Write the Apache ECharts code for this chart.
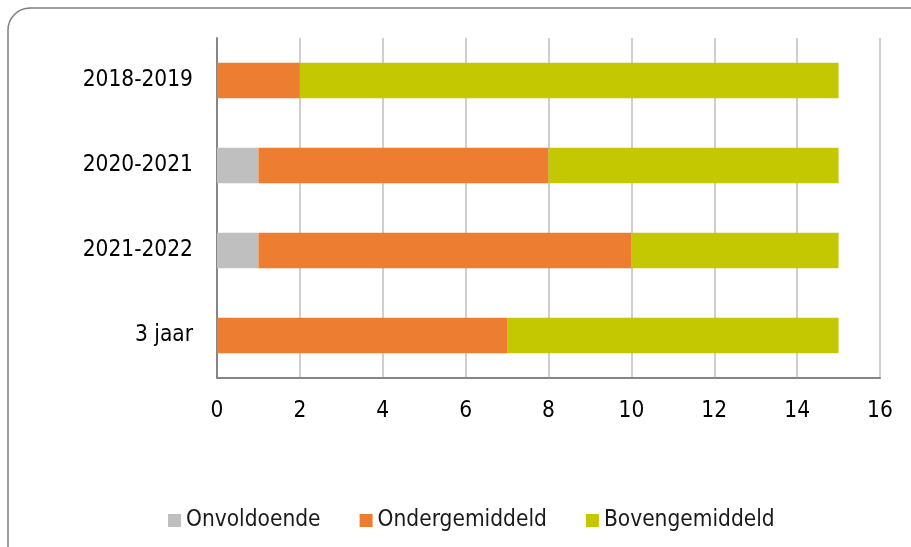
<!DOCTYPE html>
<html>
<head>
<meta charset="utf-8">
<script src="https://cdn.jsdelivr.net/npm/echarts@6/dist/echarts.min.js"></script>
<style>
  html, body { margin: 0; padding: 0; background: #ffffff; }
  #chart { width: 911px; height: 547px; }
</style>
</head>
<body>
<div id="chart"></div>
<script>
// categories, top to bottom
const categories = ["2018-2019", "2020-2021", "2021-2022", "3 jaar"];
// series values
const onvoldoende = [0, 1, 1, 0];
const ondergemiddeld = [2, 7, 9, 7];
const bovengemiddeld = [13, 7, 5, 8];

const font = "'DejaVu Sans Condensed', 'DejaVu Sans', sans-serif";

let myChart = echarts.init(document.getElementById("chart"));
myChart.setOption({
  animation: false,
  textStyle: { fontFamily: font },
  graphic: [
    {
      type: "rect",
      shape: { x: 8, y: 8, width: 930, height: 570, r: 22 },
      style: { fill: "none", stroke: "#7f7f7f", lineWidth: 1.5 },
    },
  ],
  legend: {
    top: 504,
    left: 163,
    itemWidth: 13,
    itemHeight: 13,
    itemGap: 39,
    icon: "rect",
    textStyle: { fontFamily: font, fontSize: 22.5, color: "#1a1a1a", padding: [0, 0, 0, 0] },
    data: ["Onvoldoende", "Ondergemiddeld", "Bovengemiddeld"],
  },
  grid: { left: 217, right: 31, top: 38, bottom: 169 },
  xAxis: {
    type: "value",
    min: 0,
    max: 16,
    interval: 2,
    axisLine: { show: true, lineStyle: { color: "#868686", width: 2 } },
    axisTick: { show: false },
    splitLine: { lineStyle: { color: "#bfbfbf", width: 1.5 } },
    axisLabel: { fontFamily: font, fontSize: 22.5, color: "#000", margin: 22 },
  },
  yAxis: {
    type: "category",
    inverse: true,
    data: categories,
    axisLine: { lineStyle: { color: "#868686", width: 2 } },
    axisTick: { show: false },
    axisLabel: { fontFamily: font, fontSize: 22.5, color: "#000", margin: 24 },
  },
  series: [
    {
      name: "Onvoldoende",
      type: "bar",
      stack: "total",
      barWidth: "42%",
      itemStyle: { color: "#bfbfbf" },
      data: onvoldoende,
    },
    {
      name: "Ondergemiddeld",
      type: "bar",
      stack: "total",
      itemStyle: { color: "#ed7d31" },
      data: ondergemiddeld,
    },
    {
      name: "Bovengemiddeld",
      type: "bar",
      stack: "total",
      itemStyle: { color: "#c4c800" },
      data: bovengemiddeld,
    },
  ],
});
</script>
</body>
</html>
